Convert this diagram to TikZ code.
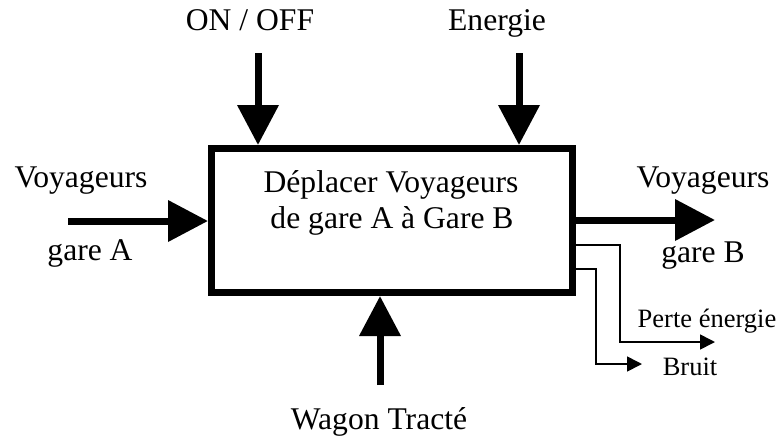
\documentclass[tikz,border=0pt]{standalone}
\usepackage{fontspec}
\setmainfont{Liberation Serif}
\usetikzlibrary{arrows.meta}
\begin{document}
\begin{tikzpicture}[x=1pt,y=-1pt,
  lbl/.style={anchor=base,inner sep=0pt,font=\fontsize{31.6}{36}\selectfont},
  smlbl/.style={anchor=base,inner sep=0pt,font=\fontsize{26.5}{30}\selectfont},
  bigarrow/.style={line width=7pt,-{Triangle[length=40pt,width=40pt]}},
  thinarrow/.style={line width=1.6pt,-{Triangle[length=15pt,width=15pt]}},
  mainbox/.style={draw,line width=7pt,minimum width=361pt,minimum height=144pt,inner sep=0pt}]
\useasboundingbox (0,0) rectangle (784,440);
\node[mainbox] (box) at (392,220.5) {};
\node[lbl] (l1) at (391,192) {Déplacer Voyageurs};
\node[lbl] (l2) at (392,228) {de gare A à Gare B};
% labels
\node[lbl] (onoff) at (250,30) {ON / OFF};
\node[lbl] (energie) at (497,30) {Energie};
\node[lbl] (vin) at (81,187) {Voyageurs};
\node[lbl] (gA) at (90,260) {gare A};
\node[lbl] (vout) at (703,187) {Voyageurs};
\node[lbl] (gB) at (703,262) {gare B};
\node[smlbl] (perte) at (707,327) {Perte énergie};
\node[smlbl] (bruit) at (690,375) {Bruit};
\node[lbl] (wagon) at (379,429) {Wagon Tracté};
% coordinates
\coordinate (onS) at (258,53);
\coordinate (enS) at (519,53);
\coordinate (inS) at (68,221);
\coordinate (outE) at (715,220);
\coordinate (wS) at (380,385);
\coordinate (pA) at (620,245);
\coordinate (pB) at (620,342);
\coordinate (pE) at (715,342);
\coordinate (bA) at (596,269);
\coordinate (bB) at (596,364);
\coordinate (bE) at (642,364);
% arrows
\draw[bigarrow] (onS) -- (onS |- box.north);
\draw[bigarrow] (enS) -- (enS |- box.north);
\draw[bigarrow] (inS) -- (inS -| box.west);
\draw[bigarrow] (outE -| box.east) -- (outE);
\draw[bigarrow] (wS) -- (wS |- box.south);
\draw[thinarrow] (pA -| box.east) -- (pA) -- (pB) -- (pE);
\draw[thinarrow] (bA -| box.east) -- (bA) -- (bB) -- (bE);
\end{tikzpicture}
\end{document}
